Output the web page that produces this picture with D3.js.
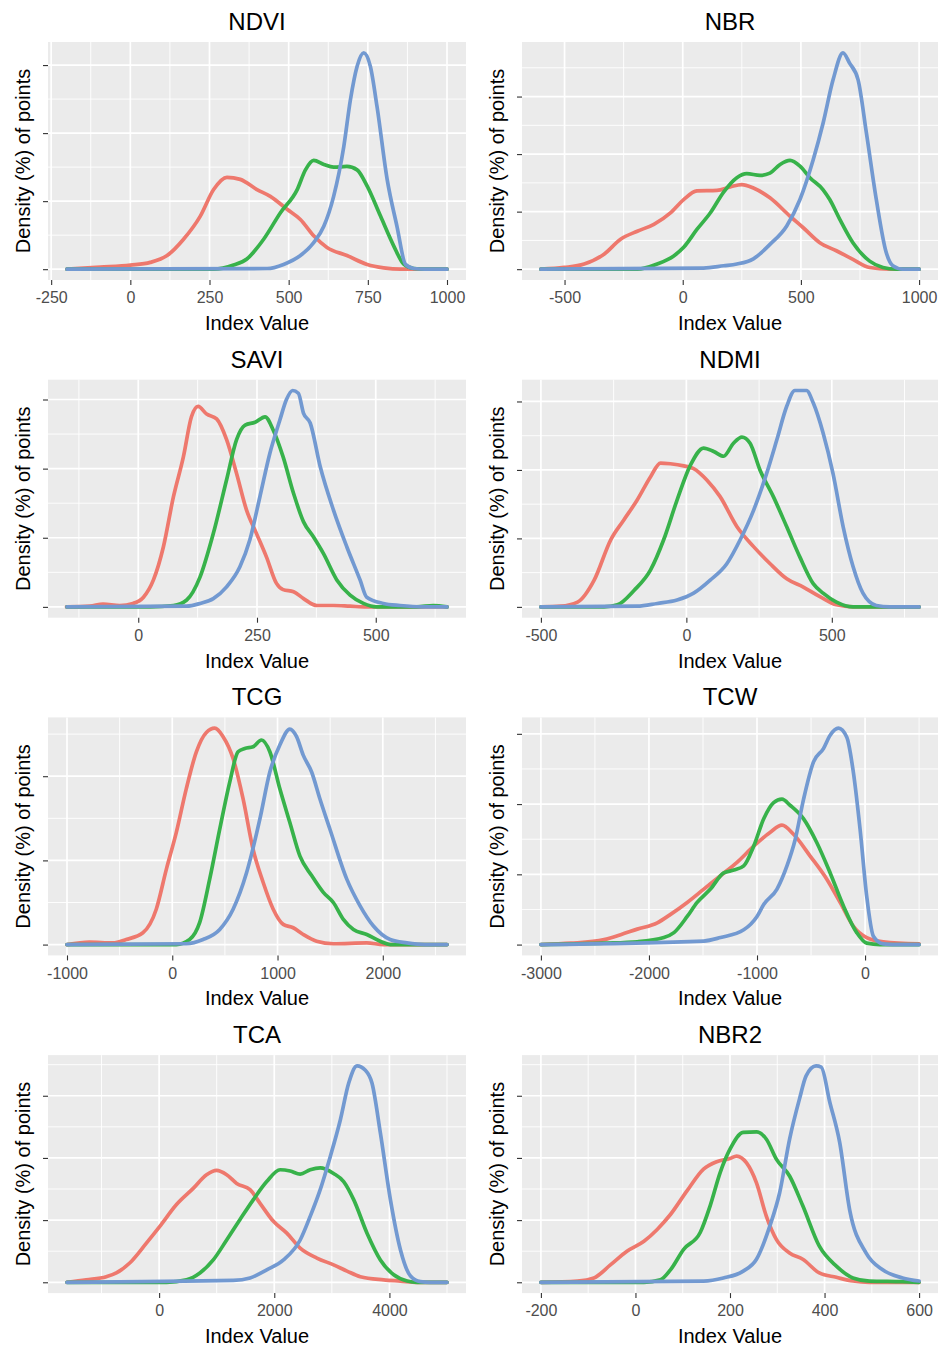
<!DOCTYPE html>
<html>
<head>
<meta charset="utf-8">
<script src="https://cdn.jsdelivr.net/npm/d3@7"></script>
<style>
  body { margin: 0; background: #fff; }
  text { font-family: "Liberation Sans", Arial, sans-serif; }
</style>
</head>
<body>
<div id="main"></div>
<script>
const ctx = { w: 941, h: 1348 };

// panel titles, in reading order (2 columns x 4 rows)
const panelNames = ["NDVI", "NBR", "SAVI", "NDMI", "TCG", "TCW", "TCA", "NBR2"];

// data extent of every density curve (x)
const xRanges = [[-200, 1000], [-600, 1000], [-150, 650], [-500, 800],
                 [-1000, 2610], [-3000, 500], [-1600, 5000], [-200, 600]];

const xTicks = [
  [-250, 0, 250, 500, 750, 1000],
  [-500, 0, 500, 1000],
  [0, 250, 500],
  [-500, 0, 500],
  [-1000, 0, 1000, 2000],
  [-3000, -2000, -1000, 0],
  [0, 2000, 4000],
  [-200, 0, 200, 400, 600]
];

// y ticks have no labels; values in relative density units
const yTicks = [
  [0, 1, 2, 3], [0, 1, 2, 3], [0, 1, 2, 3], [0, 1, 2, 3],
  [0, 1, 2], [0, 1, 2, 3], [0, 1, 2, 3], [0, 1, 2, 3]
];

const seriesColors = ["#EE786D", "#37B24A", "#7299D1"];

// density curves [x, density]: red, green, blue
const ndvi = [
  [[-200,0],[-95,0.03],[0,0.06],[63,0.1],[116,0.2],[168,0.44],[221,0.78],[263,1.17],[305,1.35],[347,1.32],[400,1.17],[442,1.07],[495,0.88],[537,0.73],[579,0.49],[621,0.32],[684,0.2],[748,0.07],[800,0.02],[853,0]],
  [[263,0],[326,0.06],[368,0.15],[421,0.44],[474,0.83],[527,1.17],[553,1.46],[579,1.6],[611,1.54],[642,1.5],[684,1.51],[716,1.46],[748,1.22],[790,0.78],[832,0.34],[864,0.07],[895,0.01],[937,0]],
  [[432,0.01],[484,0.07],[537,0.2],[579,0.39],[611,0.63],[642,1.07],[674,1.8],[695,2.49],[716,2.98],[737,3.18],[758,2.98],[779,2.39],[811,1.32],[842,0.63],[869,0.07],[895,0.01],[930,0]]
];

const nbr = [
  [[-600,0],[-501,0.03],[-417,0.09],[-333,0.26],[-263,0.52],[-192,0.66],[-122,0.78],[-52,0.98],[4,1.21],[60,1.36],[145,1.37],[201,1.43],[250,1.47],[299,1.41],[369,1.24],[454,0.92],[510,0.72],[580,0.46],[650,0.32],[720,0.17],[791,0.03],[875,0]],
  [[-192,0],[-108,0.09],[-38,0.23],[4,0.38],[60,0.69],[117,0.98],[173,1.34],[229,1.59],[271,1.66],[327,1.63],[369,1.67],[412,1.82],[454,1.89],[496,1.79],[538,1.59],[594,1.38],[622,1.21],[664,0.87],[720,0.46],[791,0.14],[847,0.03],[903,0]],
  [[88,0.02],[173,0.06],[229,0.09],[299,0.18],[369,0.43],[440,0.75],[496,1.21],[552,1.9],[594,2.54],[636,3.29],[678,3.76],[706,3.58],[742,3.29],[777,2.37],[819,1.21],[861,0.29],[889,0.06],[931,0]]
];

const savi = [
  [[-151,0],[-102,0.01],[-74,0.04],[-39,0.02],[-11,0.05],[11,0.14],[32,0.39],[53,0.87],[74,1.59],[95,2.17],[112,2.75],[126,2.9],[144,2.79],[165,2.72],[186,2.42],[207,1.93],[228,1.4],[249,1.06],[270,0.72],[291,0.34],[305,0.25],[327,0.22],[348,0.12],[376,0.02],[411,0.02],[446,0.01],[481,0]],
  [[25,0],[74,0.02],[102,0.1],[130,0.43],[158,1.06],[186,1.84],[207,2.42],[225,2.63],[246,2.67],[267,2.75],[284,2.56],[305,2.17],[327,1.64],[348,1.23],[369,1.01],[390,0.77],[418,0.39],[446,0.17],[474,0.05],[502,0],[586,0],[621,0.02],[650,0]],
  [[102,0.01],[130,0.05],[158,0.12],[186,0.29],[214,0.58],[235,0.97],[256,1.59],[277,2.22],[298,2.7],[312,3.0],[325,3.13],[337,3.09],[348,2.8],[362,2.66],[383,2.03],[411,1.4],[439,0.87],[467,0.39],[481,0.14],[516,0.05],[551,0.02],[600,0]]
];

const ndmi = [
  [[-500,0],[-432,0.01],[-374,0.07],[-317,0.39],[-260,0.98],[-215,1.27],[-169,1.56],[-123,1.9],[-89,2.1],[-55,2.09],[-9,2.06],[25,2.02],[71,1.85],[116,1.61],[174,1.17],[231,0.88],[288,0.63],[345,0.41],[402,0.29],[459,0.15],[516,0.03],[573,0]],
  [[-283,0],[-237,0.03],[-180,0.24],[-123,0.54],[-78,0.98],[-32,1.56],[14,2.07],[59,2.32],[94,2.27],[128,2.2],[162,2.39],[191,2.48],[219,2.39],[253,2.0],[299,1.61],[345,1.17],[390,0.73],[436,0.34],[470,0.2],[516,0.07],[573,0]],
  [[-169,0.01],[-100,0.05],[-32,0.1],[25,0.2],[82,0.39],[139,0.63],[185,0.98],[231,1.41],[276,1.95],[311,2.44],[345,2.93],[373,3.16],[413,3.16],[436,2.98],[470,2.54],[504,1.95],[539,1.17],[573,0.59],[607,0.2],[653,0.02],[699,0]]
];

const tcg = [
  [[-1000,0],[-787,0.03],[-565,0.02],[-438,0.06],[-279,0.14],[-152,0.42],[-57,0.89],[38,1.33],[133,1.85],[229,2.29],[324,2.52],[403,2.57],[483,2.47],[578,2.21],[673,1.73],[768,1.13],[863,0.74],[959,0.42],[1054,0.24],[1149,0.2],[1244,0.12],[1371,0.04],[1530,0.01],[1848,0.02],[2006,0]],
  [[38,0],[165,0.06],[260,0.26],[356,0.78],[451,1.37],[546,1.93],[625,2.29],[689,2.33],[768,2.35],[848,2.43],[927,2.29],[1022,1.85],[1117,1.45],[1213,1.05],[1324,0.82],[1435,0.62],[1530,0.5],[1625,0.3],[1721,0.18],[1848,0.12],[1975,0.04],[2070,0]],
  [[133,0.01],[292,0.06],[451,0.18],[578,0.42],[705,0.85],[832,1.49],[927,2.05],[1022,2.37],[1117,2.56],[1181,2.47],[1244,2.25],[1324,2.05],[1403,1.73],[1498,1.37],[1657,0.78],[1784,0.46],[1911,0.22],[2070,0.06],[2229,0.02],[2400,0]]
];

const tcw = [
  [[-3000,0],[-2723,0.02],[-2415,0.07],[-2262,0.14],[-2108,0.22],[-1923,0.31],[-1800,0.43],[-1646,0.6],[-1492,0.79],[-1338,0.98],[-1185,1.17],[-1031,1.4],[-877,1.6],[-769,1.7],[-662,1.57],[-508,1.26],[-354,0.93],[-231,0.6],[-108,0.26],[15,0.1],[169,0.04],[500,0.01]],
  [[-3000,0],[-2415,0.02],[-2108,0.04],[-1862,0.1],[-1769,0.17],[-1646,0.4],[-1554,0.6],[-1431,0.79],[-1308,1.02],[-1215,1.06],[-1123,1.12],[-1031,1.4],[-938,1.79],[-846,2.02],[-769,2.07],[-692,1.98],[-569,1.79],[-446,1.45],[-323,1.02],[-200,0.55],[-77,0.17],[15,0.02],[138,0]],
  [[-1492,0.05],[-1338,0.1],[-1123,0.21],[-1000,0.4],[-938,0.57],[-815,0.79],[-723,1.12],[-646,1.5],[-569,2.07],[-477,2.6],[-385,2.79],[-323,2.98],[-246,3.08],[-169,2.95],[-108,2.45],[-46,1.64],[15,0.69],[77,0.12],[169,0.01],[260,0]]
];

const tca = [
  [[-1600,0],[-1266,0.04],[-917,0.09],[-743,0.15],[-511,0.31],[-221,0.63],[12,0.9],[302,1.25],[592,1.51],[824,1.73],[999,1.8],[1173,1.73],[1347,1.59],[1579,1.49],[1753,1.27],[1985,0.98],[2218,0.79],[2450,0.55],[2740,0.39],[3030,0.28],[3263,0.18],[3495,0.09],[3901,0.04],[4192,0.02],[4482,0]],
  [[128,0],[476,0.04],[708,0.15],[940,0.36],[1173,0.68],[1405,1.01],[1637,1.33],[1869,1.62],[2102,1.81],[2276,1.79],[2450,1.74],[2624,1.81],[2798,1.84],[3030,1.75],[3205,1.62],[3379,1.33],[3611,0.79],[3843,0.36],[4075,0.12],[4308,0.02],[4482,0]],
  [[1289,0.03],[1579,0.07],[1869,0.2],[2160,0.36],[2450,0.68],[2624,1.06],[2798,1.49],[2972,2.02],[3147,2.61],[3292,3.2],[3437,3.48],[3582,3.41],[3698,3.2],[3843,2.4],[4017,1.33],[4192,0.52],[4366,0.1],[4540,0.01],[4700,0]]
];

const nbr2 = [
  [[-200,0],[-123,0.02],[-88,0.07],[-53,0.28],[-18,0.5],[18,0.66],[46,0.85],[74,1.09],[109,1.47],[144,1.82],[172,1.94],[200,1.99],[214,2.03],[235,1.92],[256,1.6],[277,1.06],[298,0.69],[326,0.47],[354,0.37],[389,0.15],[425,0.08],[460,0.02],[495,0]],
  [[18,0],[53,0.04],[74,0.2],[102,0.53],[137,0.8],[158,1.23],[179,1.76],[200,2.14],[228,2.41],[256,2.42],[277,2.3],[298,1.98],[326,1.71],[354,1.23],[389,0.58],[425,0.26],[460,0.07],[495,0.02],[565,0.01],[600,0]],
  [[144,0.02],[186,0.07],[228,0.18],[256,0.37],[284,0.9],[305,1.44],[326,2.3],[347,2.95],[361,3.32],[382,3.48],[393,3.46],[411,2.9],[432,2.25],[453,1.17],[488,0.47],[523,0.2],[565,0.07],[600,0.02]]
];

const panelData = [ndvi, nbr, savi, ndmi, tcg, tcw, tca, nbr2];

function expand(lo, hi) {
  const pad = (hi - lo) * 0.05;
  return [lo - pad, hi + pad];
}

function drawPanel(svgEl, i) {
  const col = i % 2, row = Math.floor(i / 2);
  const left = col === 0 ? 48 : 522;
  const right = col === 0 ? 466 : 938;
  const top = 42 + row * 337.7;
  const bottom = top + 238;

  const series = panelData[i];
  const [x0, x1] = xRanges[i];
  const yMax = d3.max(series, s => d3.max(s, d => d[1]));

  const x = d3.scaleLinear().domain(expand(x0, x1)).range([left, right]);
  const y = d3.scaleLinear().domain(expand(0, yMax)).range([bottom, top]);

  const g = svgEl.append("g");

  g.append("rect")
    .attr("x", left).attr("y", top)
    .attr("width", right - left).attr("height", bottom - top)
    .attr("fill", "#EBEBEB");

  // grid lines: minor halfway between majors
  const xt = xTicks[i], yt = yTicks[i];
  const xStep = xt[1] - xt[0], yStep = yt[1] - yt[0];
  const [dx0, dx1] = x.domain(), [dy0, dy1] = y.domain();
  const xMinor = d3.range(xt[0] - xStep / 2, dx1, xStep).filter(v => v > dx0);
  const yMinor = d3.range(yt[0] + yStep / 2, dy1, yStep).filter(v => v > dy0);

  g.selectAll(".xminor").data(xMinor).enter().append("line")
    .attr("x1", d => x(d)).attr("x2", d => x(d))
    .attr("y1", top).attr("y2", bottom)
    .attr("stroke", "#fff").attr("stroke-width", 0.9);
  g.selectAll(".yminor").data(yMinor).enter().append("line")
    .attr("x1", left).attr("x2", right)
    .attr("y1", d => y(d)).attr("y2", d => y(d))
    .attr("stroke", "#fff").attr("stroke-width", 0.9);
  g.selectAll(".xmajor").data(xt).enter().append("line")
    .attr("x1", d => x(d)).attr("x2", d => x(d))
    .attr("y1", top).attr("y2", bottom)
    .attr("stroke", "#fff").attr("stroke-width", 1.7);
  g.selectAll(".ymajor").data(yt).enter().append("line")
    .attr("x1", left).attr("x2", right)
    .attr("y1", d => y(d)).attr("y2", d => y(d))
    .attr("stroke", "#fff").attr("stroke-width", 1.7);

  // density curves, each padded to the full range with zeros
  const line = d3.line()
    .x(d => x(d[0])).y(d => y(d[1]))
    .curve(d3.curveMonotoneX);

  series.forEach((s, k) => {
    const pts = s.slice();
    if (pts[0][0] > x0) pts.unshift([x0, 0]);
    if (pts[pts.length - 1][0] < x1) pts.push([x1, 0]);
    g.append("path")
      .attr("d", line(pts))
      .attr("fill", "none")
      .attr("stroke", seriesColors[k])
      .attr("stroke-width", 3.7)
      .attr("stroke-linecap", "round")
      .attr("stroke-linejoin", "round");
  });

  // axes
  const xAxis = d3.axisBottom(x).tickValues(xt).tickSize(5).tickPadding(7)
    .tickFormat(d3.format("d"));
  const gx = g.append("g").attr("transform", `translate(0,${bottom})`).call(xAxis);
  gx.select(".domain").remove();
  gx.selectAll(".tick line").attr("stroke", "#333").attr("stroke-width", 1.1);
  gx.selectAll(".tick text")
    .attr("fill", "#4D4D4D").attr("font-size", 16)
    .attr("font-family", "Liberation Sans, Arial, sans-serif")
    .text(d => d < 0 ? "-" + Math.abs(d) : d);

  const yAxis = d3.axisLeft(y).tickValues(yt).tickSize(5).tickFormat("");
  const gy = g.append("g").attr("transform", `translate(${left},0)`).call(yAxis);
  gy.select(".domain").remove();
  gy.selectAll(".tick line").attr("stroke", "#333").attr("stroke-width", 1.1);

  // titles
  g.append("text")
    .attr("x", (left + right) / 2).attr("y", top - 12)
    .attr("text-anchor", "middle").attr("font-size", 24).attr("fill", "#000")
    .text(panelNames[i]);

  g.append("text")
    .attr("x", (left + right) / 2).attr("y", bottom + 50)
    .attr("text-anchor", "middle").attr("font-size", 20).attr("fill", "#000")
    .text("Index Value");

  g.append("text")
    .attr("transform", `translate(${left - 18},${(top + bottom) / 2}) rotate(-90)`)
    .attr("text-anchor", "middle").attr("font-size", 20).attr("fill", "#000")
    .text("Density (%) of points");
}

function createViz() {
  const svgEl = d3.select("#main").append("svg")
    .attr("width", ctx.w)
    .attr("height", ctx.h);
  svgEl.append("rect").attr("width", ctx.w).attr("height", ctx.h).attr("fill", "#fff");
  panelNames.forEach((name, i) => drawPanel(svgEl, i));
}

createViz();
</script>
</body>
</html>
